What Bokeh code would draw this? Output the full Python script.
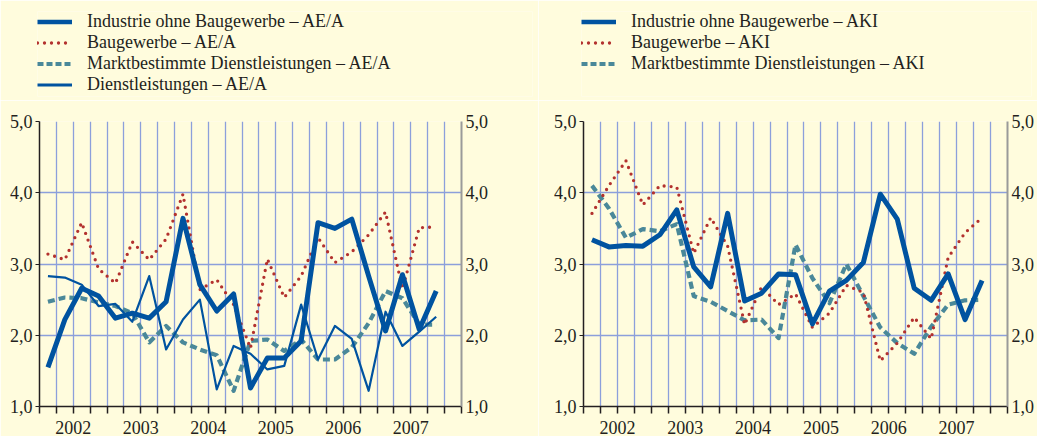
from bokeh.plotting import figure
from bokeh.models import (Range1d, LinearAxis, FixedTicker, Legend, LegendItem, Grid)
from bokeh.layouts import row, column
from bokeh.embed import file_html
from bokeh.resources import INLINE

# ---------------- data ----------------
quarters = ["2002Q1", "2002Q2", "2002Q3", "2002Q4",
            "2003Q1", "2003Q2", "2003Q3", "2003Q4",
            "2004Q1", "2004Q2", "2004Q3", "2004Q4",
            "2005Q1", "2005Q2", "2005Q3", "2005Q4",
            "2006Q1", "2006Q2", "2006Q3", "2006Q4",
            "2007Q1", "2007Q2", "2007Q3", "2007Q4"]
years = ["2002", "2003", "2004", "2005", "2006", "2007"]
y_ticks = [1, 2, 3, 4, 5]
y_tick_labels = ["1,0", "2,0", "3,0", "4,0", "5,0"]

# left panel: AE/A
industrie_aea = [1.55, 2.22, 2.66, 2.55, 2.24, 2.31, 2.24, 2.47,
                 3.64, 2.71, 2.34, 2.58, 1.26, 1.68, 1.68, 1.92,
                 3.58, 3.50, 3.63, 2.83, 2.06, 2.85, 2.08, 2.62]
bau_aea = [3.14, 3.06, 3.58, 2.93, 2.73, 3.31, 3.06, 3.35,
           3.98, 2.64, 2.78, 2.43, 1.82, 3.07, 2.53, 2.83,
           3.37, 3.02, 3.17, 3.41, 3.73, 2.65, 3.51, 3.52]
markt_aea = [2.47, 2.53, 2.52, 2.46, 2.41, 2.31, 1.90, 2.13,
             1.90, 1.80, 1.72, 1.22, 1.92, 1.94, 1.78, 1.94,
             1.66, 1.66, 1.83, 2.17, 2.62, 2.52, 2.15, 2.15]
dienst_aea = [2.83, 2.81, 2.71, 2.41, 2.44, 2.19, 2.83, 1.80,
              2.22, 2.50, 1.24, 1.85, 1.74, 1.52, 1.57, 2.43,
              1.66, 2.13, 1.95, 1.22, 2.33, 1.85, 2.05, 2.26]

# right panel: AKI
industrie_aki = [3.34, 3.24, 3.26, 3.25, 3.41, 3.76, 2.96, 2.68,
                 3.71, 2.48, 2.59, 2.86, 2.85, 2.16, 2.62, 2.77,
                 3.02, 3.98, 3.63, 2.66, 2.49, 2.86, 2.22, 2.77]
bau_aki = [3.71, 4.10, 4.45, 3.83, 4.10, 4.08, 3.15, 3.65,
           3.25, 2.15, 2.68, 2.43, 2.58, 2.11, 2.31, 2.70,
           2.60, 1.64, 1.89, 2.25, 1.95, 3.09, 3.44, 3.65]
markt_aki = [4.10, 3.78, 3.37, 3.49, 3.46, 3.56, 2.55, 2.47,
             2.34, 2.21, 2.22, 1.96, 3.27, 2.80, 2.45, 3.00,
             2.55, 2.11, 1.89, 1.74, 2.12, 2.43, 2.49, 2.50]

# ---------------- style ----------------
BG = "#FFFCDD"
GRID = "#8C9FDB"
BLUE = "#0053A0"
RED = "#B3312E"
TEAL = "#4A8899"
TXT = "#231F20"
FONT = "Liberation Serif"
FS = "18px"

STYLES = {
    "thick": dict(line_color=BLUE, line_width=5, line_join="round"),
    "thin": dict(line_color=BLUE, line_width=2.2, line_join="round"),
    "dot": dict(line_color=RED, line_width=3.3, line_dash="0 7",
                line_cap="round", line_join="round"),
    "dash": dict(line_color=TEAL, line_width=4.2, line_dash="7 4", line_join="round"),
}
LEG_STYLES = {
    "thick": dict(line_color=BLUE, line_width=4.5),
    "thin": dict(line_color=BLUE, line_width=3),
    "dot": dict(line_color=RED, line_width=3.3, line_dash="0 7", line_cap="round"),
    "dash": dict(line_color=TEAL, line_width=4, line_dash="6 3"),
}

xq = [i + 0.5 for i in range(len(quarters))]
n_slots = len(quarters) + 1          # axis runs one quarter into 2008
year_x = [quarters.index(y + "Q1") + 2 for y in years]

LEG_H = 100
PLOT_H = 336


def make_legend_fig(width, left, series):
    lf = figure(width=width, height=LEG_H, output_backend="svg", toolbar_location=None,
                x_range=Range1d(0, n_slots), y_range=Range1d(1, 5),
                min_border_left=left, min_border_top=11, min_border_right=6,
                min_border_bottom=4, background_fill_color=BG, border_fill_color=BG,
                outline_line_color=None, x_axis_type=None, y_axis_type=None)
    items = []
    for label, vals, kind in series:
        # hidden copy of the series: only its legend sample is shown
        r = lf.line(xq, vals, visible=False, **LEG_STYLES[kind])
        items.append(LegendItem(label=label, renderers=[r]))
    lf.add_layout(Legend(items=items, location="top_left",
                         background_fill_alpha=0, border_line_alpha=0,
                         inactive_fill_alpha=0,
                         padding=0, margin=0, spacing=0,
                         label_height=21, glyph_height=21, glyph_width=35,
                         label_standoff=15, label_text_font=FONT,
                         label_text_font_size=FS, label_text_color=TXT))
    return lf


def make_panel(width, b_left, b_right, series):
    p = figure(width=width, height=PLOT_H, output_backend="svg", toolbar_location=None,
               x_range=Range1d(0, n_slots), y_range=Range1d(1, 5),
               min_border_left=b_left, min_border_right=b_right,
               min_border_top=21, min_border_bottom=28,
               background_fill_color=BG, border_fill_color=BG,
               outline_line_color=None, x_axis_type=None, y_axis_type=None)

    p.add_layout(Grid(dimension=0, ticker=FixedTicker(ticks=list(range(n_slots + 1))),
                      grid_line_color=GRID, grid_line_width=1.3))
    p.add_layout(Grid(dimension=1, ticker=FixedTicker(ticks=y_ticks[1:]),
                      grid_line_color=GRID, grid_line_width=1.3))

    xa = LinearAxis(ticker=FixedTicker(ticks=year_x, minor_ticks=list(range(n_slots + 1))),
                    major_label_overrides={x: y for x, y in zip(year_x, years)},
                    axis_line_color=TXT, axis_line_width=1.5,
                    major_tick_out=0, major_tick_in=0,
                    minor_tick_out=7, minor_tick_in=0,
                    minor_tick_line_color=TXT, minor_tick_line_width=1.5,
                    major_label_standoff=7,
                    major_label_text_font=FONT, major_label_text_font_size=FS,
                    major_label_text_color=TXT)
    p.add_layout(xa, "below")

    overrides = {t: l for t, l in zip(y_ticks, y_tick_labels)}
    ya = LinearAxis(ticker=FixedTicker(ticks=y_ticks), major_label_overrides=overrides,
                    axis_line_color=TXT, axis_line_width=1.5,
                    major_tick_out=4, major_tick_in=0, major_tick_line_color=TXT,
                    minor_tick_out=0, minor_tick_in=0, major_label_standoff=3,
                    major_label_text_font=FONT, major_label_text_font_size=FS,
                    major_label_text_color=TXT)
    p.add_layout(ya, "left")

    ya2 = LinearAxis(ticker=FixedTicker(ticks=y_ticks), major_label_overrides=overrides,
                     axis_line_color="#9A9A9A", axis_line_width=2,
                     major_tick_out=0, major_tick_in=0,
                     minor_tick_out=0, minor_tick_in=0, major_label_standoff=4,
                     major_label_text_font=FONT, major_label_text_font_size=FS,
                     major_label_text_color=TXT)
    p.add_layout(ya2, "right")

    # draw dashed/dotted/thin first, thick on top
    order = {"dash": 0, "dot": 1, "thin": 2, "thick": 3}
    for _, vals, kind in sorted(series, key=lambda s: order[s[2]]):
        p.line(xq, vals, **STYLES[kind])
    return p


series_l = [
    ("Industrie ohne Baugewerbe – AE/A", industrie_aea, "thick"),
    ("Baugewerbe – AE/A", bau_aea, "dot"),
    ("Marktbestimmte Dienstleistungen – AE/A", markt_aea, "dash"),
    ("Dienstleistungen – AE/A", dienst_aea, "thin"),
]
series_r = [
    ("Industrie ohne Baugewerbe – AKI", industrie_aki, "thick"),
    ("Baugewerbe – AKI", bau_aki, "dot"),
    ("Marktbestimmte Dienstleistungen – AKI", markt_aki, "dash"),
]

W1, W2 = 538, 499
leg1 = make_legend_fig(W1, 37, series_l)
leg2 = make_legend_fig(W2, 43, series_r)
p1 = make_panel(W1, 39, 77, series_l)
p2 = make_panel(W2, 45, 29, series_r)

layout = column(row(leg1, leg2, spacing=0), row(p1, p2, spacing=0), spacing=0)
open("out.html", "w").write(file_html(layout, INLINE))
